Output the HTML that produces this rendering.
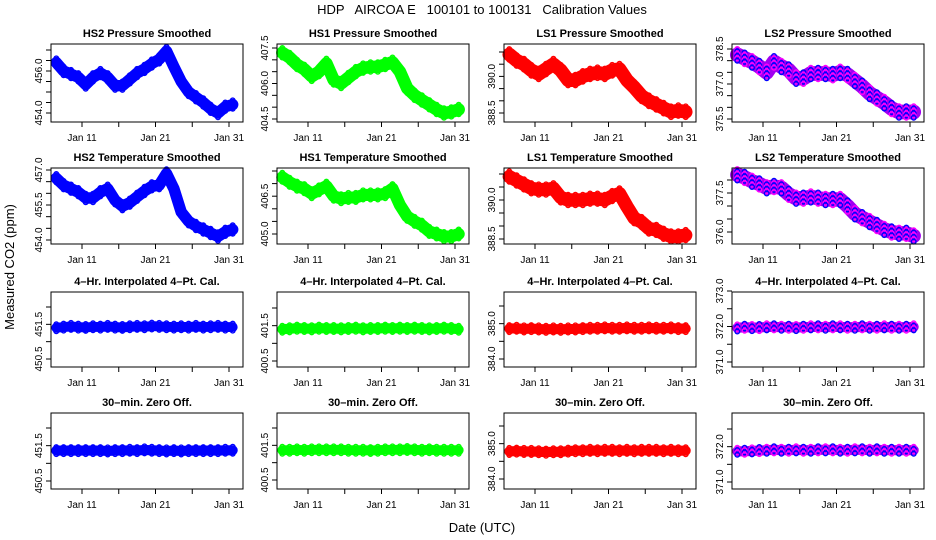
<!DOCTYPE html>
<html><head><meta charset="utf-8">
<style>
html,body{margin:0;padding:0;background:#fff;}
svg{display:block;font-family:"Liberation Sans",Arial,sans-serif;}
</style></head>
<body>
<svg id="chart" width="936" height="540" viewBox="0 0 936 540" xmlns="http://www.w3.org/2000/svg">
<rect width="936" height="540" fill="#fff"/>
<text x="482" y="14" text-anchor="middle" font-size="13" xml:space="preserve">HDP   AIRCOA E   100101 to 100131   Calibration Values</text>
<text transform="translate(14,267) rotate(-90)" text-anchor="middle" font-size="13">Measured CO2 (ppm)</text>
<text x="482" y="532" text-anchor="middle" font-size="13">Date (UTC)</text>
<g id="panels"></g>
</svg>
<script>
// Data: daily values (Jan 7.5 .. Jan 31.5)
const days = [7.5,8.5,9.5,10.5,11.5,12.5,13.5,14.5,15.5,16.5,17.5,18.5,19.5,20.5,21.5,22.5,23.5,24.5,25.5,26.5,27.5,28.5,29.5,30.5,31.5];
const xTickDays = [11,16,21,26,31];
const xTickLabels = ["Jan 11","","Jan 21","","Jan 31"];
const panelTitles = ["HS2 Pressure Smoothed","HS1 Pressure Smoothed","LS1 Pressure Smoothed","LS2 Pressure Smoothed",
 "HS2 Temperature Smoothed","HS1 Temperature Smoothed","LS1 Temperature Smoothed","LS2 Temperature Smoothed",
 "4\u2013Hr. Interpolated 4\u2013Pt. Cal.","4\u2013Hr. Interpolated 4\u2013Pt. Cal.","4\u2013Hr. Interpolated 4\u2013Pt. Cal.","4\u2013Hr. Interpolated 4\u2013Pt. Cal.",
 "30\u2013min. Zero Off.","30\u2013min. Zero Off.","30\u2013min. Zero Off.","30\u2013min. Zero Off."];
const hs2Pressure = [456.4,456.0,455.85,455.7,455.35,455.7,455.9,455.7,455.3,455.3,455.6,455.9,456.1,456.35,456.55,456.95,456.2,455.5,455.0,454.75,454.5,454.2,454.0,454.3,454.4];
const hs1Pressure = [407.3,407.1,406.8,406.6,406.3,406.5,406.85,406.15,406.0,406.25,406.5,406.65,406.7,406.7,406.8,406.9,406.5,405.8,405.5,405.3,405.1,404.9,404.75,404.8,404.9];
const ls1Pressure = [390.9,390.65,390.5,390.25,390.1,390.3,390.5,390.25,389.85,389.85,390.0,390.1,390.15,390.1,390.25,390.3,389.85,389.55,389.2,389.0,388.85,388.7,388.55,388.6,388.55];
const ls2Pressure = [378.25,378.1,377.95,377.75,377.5,377.95,377.75,377.6,377.25,377.25,377.45,377.45,377.45,377.4,377.5,377.4,377.15,376.9,376.6,376.4,376.2,375.95,375.8,375.8,375.8];
const hs2Temp = [456.65,456.35,456.2,456.05,455.8,455.8,456.05,456.2,455.7,455.45,455.6,455.85,456.1,456.3,456.35,456.85,456.2,455.2,454.8,454.6,454.45,454.3,454.15,454.35,454.45];
const hs1Temp = [407.25,407.05,406.9,406.8,406.6,406.75,406.9,406.5,406.4,406.45,406.45,406.55,406.55,406.55,406.6,406.8,406.15,405.7,405.5,405.35,405.1,405.0,404.9,404.9,405.0];
const ls1Temp = [390.9,390.75,390.6,390.45,390.4,390.4,390.45,390.1,390.0,390.0,390.0,390.05,390.05,390.0,390.15,390.25,389.75,389.3,389.15,388.9,388.85,388.7,388.6,388.6,388.65];
const ls2Temp = [378.2,378.1,377.95,377.85,377.7,377.75,377.7,377.45,377.3,377.3,377.35,377.3,377.25,377.25,377.25,377.0,376.7,376.55,376.4,376.25,376.1,376.0,375.95,375.95,375.85];
const hs2Interp = [451.40,451.42,451.44,451.42,451.41,451.43,451.42,451.44,451.42,451.41,451.43,451.44,451.43,451.45,451.44,451.43,451.42,451.43,451.42,451.44,451.42,451.43,451.44,451.42,451.42];
const hs1Interp = [401.40,401.41,401.43,401.42,401.41,401.43,401.42,401.42,401.41,401.42,401.43,401.41,401.42,401.42,401.43,401.42,401.43,401.42,401.43,401.42,401.41,401.42,401.43,401.42,401.40];
const ls1Interp = [384.86,384.87,384.85,384.86,384.85,384.84,384.85,384.84,384.85,384.85,384.86,384.87,384.87,384.88,384.87,384.87,384.88,384.87,384.87,384.88,384.87,384.87,384.88,384.86,384.86];
const ls2Interp = [371.96,371.98,371.97,371.97,371.99,371.99,371.98,371.98,371.97,371.98,371.99,371.99,371.98,371.99,371.99,371.98,371.98,371.99,371.98,371.98,371.99,371.98,371.98,371.98,371.99];
const hs2Zero = [451.36,451.36,451.36,451.36,451.36,451.36,451.36,451.35,451.36,451.36,451.37,451.36,451.38,451.37,451.36,451.35,451.36,451.35,451.36,451.36,451.36,451.36,451.36,451.37,451.37];
const hs1Zero = [401.36,401.36,401.37,401.36,401.37,401.37,401.37,401.37,401.37,401.36,401.36,401.36,401.35,401.36,401.37,401.37,401.37,401.38,401.37,401.36,401.37,401.36,401.36,401.36,401.36];
const ls1Zero = [384.78,384.79,384.78,384.78,384.77,384.76,384.77,384.77,384.79,384.80,384.80,384.81,384.80,384.81,384.81,384.80,384.81,384.80,384.81,384.81,384.81,384.80,384.81,384.80,384.80];
const ls2Zero = [371.87,371.87,371.88,371.89,371.90,371.91,371.90,371.90,371.91,371.90,371.90,371.91,371.91,371.91,371.90,371.90,371.91,371.91,371.90,371.91,371.90,371.90,371.90,371.90,371.90];
const seriesList = [hs2Pressure,hs1Pressure,ls1Pressure,ls2Pressure,hs2Temp,hs1Temp,ls1Temp,ls2Temp,hs2Interp,hs1Interp,ls1Interp,ls2Interp,hs2Zero,hs1Zero,ls1Zero,ls2Zero];
const bandSpread = [0.2,0.2,0.22,0.25,0.18,0.18,0.2,0.22,0.1,0.1,0.1,0.1,0.1,0.1,0.1,0.1];
const yTickValues = [
 [457,456.5,456,455.5,455,454.5,454],[407.5,407,406.5,406,405.5,405,404.5],[391,390.5,390,389.5,389,388.5],[378.5,378,377.5,377,376.5,376,375.5],
 [457,456.5,456,455.5,455,454.5,454],[407.5,407,406.5,406,405.5,405],[391,390.5,390,389.5,389,388.5],[378,377.5,377,376.5,376],
 [452,451.5,451,450.5],[402,401.5,401,400.5],[385.5,385,384.5,384],[373,372.5,372,371.5,371],
 [452,451.5,451,450.5],[402,401.5,401,400.5],[385.5,385,384.5,384],[372.5,372,371.5,371]];
const yTickLabels = [
 ["","","456.0","","","","454.0"],["407.5","","","406.0","","","404.5"],["","","390.0","","","388.5"],["378.5","","","377.0","","","375.5"],
 ["457.0","","","455.5","","","454.0"],["","","406.5","","","405.0"],["","","390.0","","","388.5"],["","377.5","","","376.0"],
 ["","451.5","","450.5"],["","401.5","","400.5"],["","385.0","","384.0"],["373.0","","372.0","","371.0"],
 ["","451.5","","450.5"],["","401.5","","400.5"],["","385.0","","384.0"],["","372.0","","371.0"]];
const yCal = [[457,50,454,113],[407.5,48,404.5,119],[391,52,388.5,113],[378.5,49,375.5,119],
 [457,170,454,240],[407.5,171,405,234],[391,174,388.5,239],[378,180,376,232],
 [452,307,450.5,359],[402,308,400.5,361],[385.5,306,384,359],[373,291,371,362],
 [452,428,450.5,481],[402,428,400.5,480],[385.5,426,384,479],[372.5,429,371,482]];
const colors = [["#0000ff"],["#00ff00"],["#ff0000"],["#ff00ff","#0000ff"]];
const bandColors = ["#0000ff","#00ff00","#ff0000","#a000f0"];

const NS="http://www.w3.org/2000/svg";
const root=document.getElementById('panels');
const colX=[51,277,504,732], rowY=[[44,122],[168,244],[292,367],[413,489]], W=192;
function mk(tag,attrs,parent){const e=document.createElementNS(NS,tag);for(const k in attrs)e.setAttribute(k,attrs[k]);parent.appendChild(e);return e;}
for(let p=0;p<16;p++){
  const c=p%4,r=Math.floor(p/4);
  const L=colX[c],T=rowY[r][0],B=rowY[r][1];
  const g=mk('g',{},root);
  
  
  const xs=d=>L+31+(d-11)*7.35;
  const cal=yCal[p];
  const ys=v=>cal[1]+(v-cal[0])*(cal[3]-cal[1])/(cal[2]-cal[0]);
  const t=mk('text',{x:L+W/2,y:T-7,'text-anchor':'middle','font-size':'11','font-weight':'bold'},g);
  t.textContent=panelTitles[p];
  
  
  const ser=seriesList[p], sp=bandSpread[p], col=colors[c];
  const ppu=Math.abs((cal[3]-cal[1])/(cal[2]-cal[0]));
  const half=sp*ppu;
  // band line through data
  const ptsStr=ser.map((v,i)=>xs(days[i]).toFixed(1)+','+ys(v).toFixed(1)).join(' ');
  const band=mk('polyline',{points:ptsStr,fill:'none',stroke:bandColors[c],'stroke-width':(2*half+3).toFixed(1),'stroke-linejoin':'round','stroke-linecap':'round'},g);
  
  
  const pts=mk('g',{fill:'none','stroke-width':'1.4'},g);
  
  
  const nY=Math.max(2,Math.round(half*2/2.5));
  for(let i=0;i<days.length;i++){
    for(let j=0;j<=nY;j++){
      const cy=ys(ser[i])-half+j*(2*half/nY);
      const ci=mk('circle',{cx:xs(days[i]).toFixed(1),cy:cy.toFixed(1),r:2.3,stroke:col[(i+j)%col.length]},pts);
      
      
    }
  }
  const box=mk('rect',{x:L,y:T,width:W,height:B-T,fill:'none',stroke:'#000','stroke-width':'1'},g);
  
  
  for(let i=0;i<xTickDays.length;i++){
    const x=xs(xTickDays[i]);
    const tk=mk('line',{x1:x,x2:x,y1:B,y2:B+5,stroke:'#000'},g);
    
    
    if(xTickLabels[i]){const tl=mk('text',{x:x,y:B+19,'text-anchor':'middle','font-size':'10'},g);tl.textContent=xTickLabels[i];
      
      }
  }
  const yv=yTickValues[p], yl=yTickLabels[p];
  for(let i=0;i<yv.length;i++){
    const y=ys(yv[i]);
    const tk=mk('line',{x1:L-5,x2:L,y1:y,y2:y,stroke:'#000'},g);
    
    
    if(yl[i]){const tl=mk('text',{transform:`translate(${L-9},${y}) rotate(-90)`,'text-anchor':'middle','font-size':'10'},g);tl.textContent=yl[i];
      
      }
  }
}
</script>
</body></html>
